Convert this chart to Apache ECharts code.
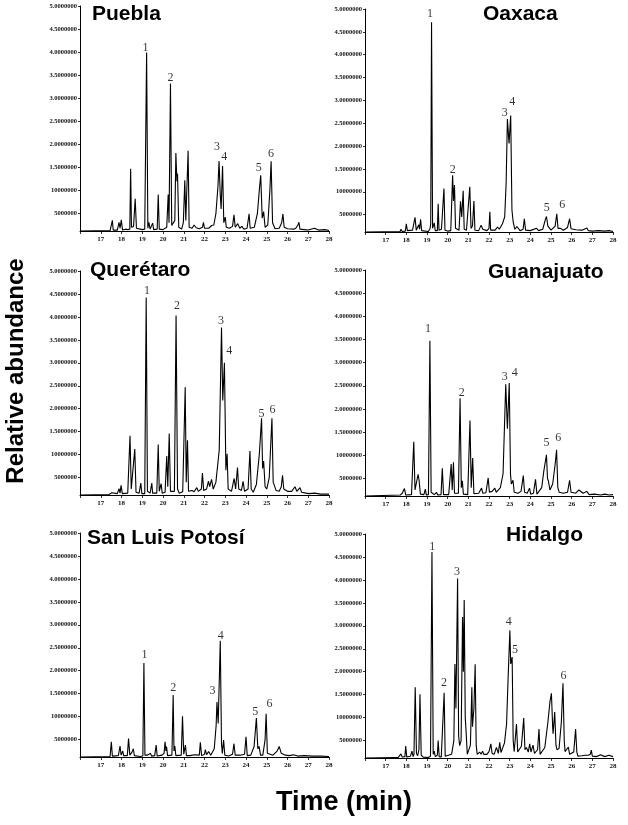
<!DOCTYPE html>
<html>
<head>
<meta charset="utf-8">
<script src="https://cdn.jsdelivr.net/npm/echarts@6/dist/echarts.min.js"></script>
<style>html,body{margin:0;padding:0;background:#fff}#c{width:628px;height:825px}</style>
</head>
<body>
<div id="c"></div>
<script>
// ---- DATA (abundance in millions, time in min) ----
const panelNames = ['Puebla','Oaxaca','Querétaro','Guanajuato','San Luis Potosí','Hidalgo'];
const xTickLabels = ['17','18','19','20','21','22','23','24','25','26','27','28'];
const yTickValues = [5,10,15,20,25,30,35,40,45,50];
const yTickLabels = ['5000000','10000000','1.5000000','2.0000000','2.5000000','3.0000000','3.5000000','4.0000000','4.5000000','5.0000000'];

const puebla = [[16.0,1.2],[17.45,1.3],[17.52,1.5],[17.56,3.5],[17.6,1.4],[17.8,1.4],[17.88,3.1],[17.93,1.8],[17.99,3.6],[18.05,1.4],[18.2,1.6],[18.23,2.0],[18.3,1.5],[18.4,1.6],[18.44,14.7],[18.48,2.0],[18.58,2.2],[18.66,8.2],[18.72,1.8],[19.0,1.5],[19.12,1.6],[19.21,39.9],[19.27,1.8],[19.32,3.1],[19.38,1.6],[19.5,2.9],[19.55,1.5],[19.72,1.6],[19.77,9.1],[19.82,1.6],[20.0,1.5],[20.18,2.0],[20.25,9.1],[20.29,3.0],[20.36,33.2],[20.42,2.4],[20.5,2.2],[20.57,3.5],[20.62,18.1],[20.67,12.0],[20.7,13.6],[20.76,2.0],[20.9,1.6],[20.98,3.0],[21.05,12.2],[21.1,3.5],[21.21,18.6],[21.26,2.0],[21.4,1.8],[21.5,2.5],[21.6,1.9],[21.75,1.7],[21.9,2.0],[21.95,3.1],[22.0,1.8],[22.2,1.8],[22.35,2.4],[22.45,2.5],[22.55,5.0],[22.65,11.0],[22.7,16.4],[22.76,9.0],[22.8,6.0],[22.87,15.3],[22.93,3.0],[23.0,4.2],[23.05,2.0],[23.2,1.8],[23.35,2.2],[23.42,4.7],[23.48,2.0],[23.6,2.8],[23.7,1.8],[23.8,2.2],[23.9,1.6],[24.05,1.8],[24.15,4.9],[24.2,1.8],[24.4,2.0],[24.55,5.0],[24.65,10.5],[24.71,13.3],[24.78,4.0],[24.85,5.4],[24.92,2.0],[25.05,2.5],[25.15,10.0],[25.21,16.3],[25.28,3.0],[25.4,1.7],[25.6,1.8],[25.72,3.0],[25.78,4.9],[25.84,2.0],[26.0,1.7],[26.3,1.6],[26.4,1.8],[26.5,2.5],[26.55,3.1],[26.6,1.6],[26.8,1.5],[27.0,1.4],[27.3,1.8],[27.5,1.4],[27.8,1.5],[28.0,1.3]];

const oaxaca = [[16.0,1.2],[17.7,1.3],[17.74,1.8],[17.8,1.3],[17.95,1.4],[18.0,3.0],[18.05,1.5],[18.3,1.6],[18.42,4.4],[18.48,1.6],[18.6,2.8],[18.64,1.8],[18.69,4.0],[18.74,1.5],[19.05,1.3],[19.14,1.8],[19.18,3.0],[19.22,47.1],[19.27,2.0],[19.35,3.2],[19.4,1.5],[19.46,1.9],[19.5,1.5],[19.54,7.4],[19.58,1.6],[19.7,1.8],[19.76,1.6],[19.82,10.7],[19.87,1.6],[19.95,1.9],[20.0,1.4],[20.15,1.5],[20.24,13.6],[20.28,8.0],[20.33,11.5],[20.38,2.0],[20.46,1.8],[20.55,1.6],[20.62,7.9],[20.68,4.5],[20.75,10.2],[20.8,1.8],[20.91,1.6],[21.0,1.7],[21.07,11.1],[21.13,2.0],[21.2,2.5],[21.27,8.0],[21.32,1.6],[21.5,1.5],[21.62,2.7],[21.7,1.8],[21.9,1.5],[22.0,2.0],[22.04,5.6],[22.08,1.6],[22.3,1.6],[22.41,2.3],[22.5,1.8],[22.65,3.0],[22.76,4.5],[22.83,12.0],[22.89,25.9],[22.97,20.6],[23.05,26.7],[23.11,6.0],[23.17,3.4],[23.25,1.8],[23.35,2.4],[23.41,2.0],[23.5,1.5],[23.65,1.8],[23.71,4.1],[23.77,1.6],[24.0,1.5],[24.3,2.0],[24.4,1.5],[24.6,1.8],[24.72,3.8],[24.78,4.6],[24.85,2.5],[25.0,1.6],[25.2,2.5],[25.28,5.2],[25.34,2.0],[25.45,2.0],[25.6,1.6],[25.8,2.2],[25.9,4.1],[25.97,1.9],[26.2,1.7],[26.5,1.6],[26.74,2.1],[26.8,1.5],[27.0,1.4],[27.3,1.5],[27.6,1.4],[27.8,1.5],[28.0,1.3]];

const queretaro = [[16.0,1.2],[17.4,1.3],[17.53,1.7],[17.6,1.3],[17.8,1.5],[17.88,2.6],[17.93,1.6],[17.98,3.3],[18.04,1.5],[18.3,1.6],[18.41,14.1],[18.47,2.5],[18.55,2.4],[18.64,11.2],[18.7,1.8],[18.85,1.6],[18.93,3.8],[18.98,1.5],[19.12,1.5],[19.19,44.2],[19.25,2.0],[19.3,1.8],[19.38,1.6],[19.46,3.8],[19.5,1.6],[19.7,1.6],[19.77,12.2],[19.82,2.0],[19.91,3.7],[19.96,1.6],[20.1,1.8],[20.18,9.7],[20.23,3.0],[20.3,14.6],[20.36,2.0],[20.42,1.8],[20.55,2.0],[20.63,40.3],[20.7,2.5],[20.78,1.6],[20.95,1.9],[21.07,24.7],[21.12,4.0],[21.18,13.1],[21.23,2.0],[21.4,2.2],[21.5,1.9],[21.63,2.8],[21.7,2.0],[21.85,2.5],[21.9,6.0],[21.96,2.2],[22.1,2.5],[22.19,4.2],[22.25,3.0],[22.34,4.6],[22.42,2.5],[22.55,4.0],[22.71,11.0],[22.82,37.7],[22.88,21.8],[22.96,30.0],[23.03,6.6],[23.09,10.2],[23.14,2.5],[23.3,2.0],[23.43,4.8],[23.5,2.5],[23.59,7.2],[23.65,2.5],[23.78,2.2],[23.86,4.2],[23.93,2.0],[24.1,2.5],[24.19,10.8],[24.25,2.5],[24.35,1.8],[24.5,3.5],[24.64,10.0],[24.75,17.9],[24.8,7.0],[24.85,8.6],[24.92,3.0],[25.0,2.5],[25.12,5.0],[25.25,17.9],[25.31,4.0],[25.36,4.1],[25.45,2.2],[25.6,2.0],[25.7,3.0],[25.76,5.5],[25.82,2.5],[26.0,2.0],[26.2,2.0],[26.36,3.0],[26.45,2.0],[26.6,2.8],[26.68,1.8],[26.9,1.6],[27.05,1.5],[27.3,1.6],[27.6,1.4],[28.0,1.4]];

const guanajuato = [[16.0,1.2],[17.7,1.4],[17.8,1.8],[17.86,1.5],[17.91,2.8],[17.97,1.4],[18.25,1.5],[18.36,12.9],[18.42,2.5],[18.5,2.2],[18.57,5.9],[18.62,4.5],[18.68,1.6],[18.85,1.5],[18.92,2.7],[18.97,1.4],[19.07,1.5],[19.14,34.7],[19.2,2.0],[19.29,2.3],[19.35,1.5],[19.46,2.0],[19.52,1.4],[19.68,1.5],[19.74,7.2],[19.8,1.5],[19.88,1.6],[20.05,1.5],[20.17,8.1],[20.22,2.5],[20.28,8.5],[20.33,1.8],[20.39,1.6],[20.52,1.8],[20.6,22.3],[20.66,3.0],[20.71,4.5],[20.76,1.6],[20.97,1.5],[21.08,17.5],[21.14,3.0],[21.21,9.4],[21.27,1.7],[21.32,1.8],[21.5,1.8],[21.64,2.9],[21.7,1.8],[21.85,1.9],[21.96,5.1],[22.02,2.0],[22.15,2.2],[22.28,2.9],[22.35,2.0],[22.55,3.0],[22.68,6.0],[22.81,25.3],[22.89,15.7],[22.98,25.6],[23.04,6.0],[23.08,3.8],[23.16,4.6],[23.22,2.0],[23.4,1.8],[23.55,2.2],[23.66,5.6],[23.72,2.0],[23.85,1.8],[23.96,2.9],[24.02,1.6],[24.15,1.8],[24.25,4.8],[24.32,1.6],[24.41,1.6],[24.55,3.0],[24.65,6.5],[24.78,10.1],[24.83,5.0],[24.87,4.5],[24.95,2.5],[25.08,3.8],[25.2,8.0],[25.27,11.2],[25.33,3.0],[25.4,2.0],[25.6,1.8],[25.8,2.0],[25.9,4.6],[25.97,2.0],[26.2,1.8],[26.35,2.5],[26.44,2.9],[26.55,1.8],[26.73,2.2],[26.85,1.5],[27.1,1.6],[27.4,1.4],[27.6,1.6],[27.8,1.4],[28.0,1.5]];

const sanLuis = [[16.0,1.2],[17.45,1.3],[17.51,4.5],[17.56,1.4],[17.85,1.5],[17.93,3.6],[17.98,1.6],[18.06,2.5],[18.1,1.5],[18.28,1.5],[18.34,5.2],[18.4,1.6],[18.5,2.2],[18.57,3.0],[18.62,1.5],[18.9,1.3],[19.03,1.4],[19.08,21.7],[19.13,1.6],[19.25,1.6],[19.4,2.0],[19.45,1.4],[19.6,1.5],[19.67,3.8],[19.72,1.4],[19.95,1.6],[20.05,2.0],[20.1,4.5],[20.14,2.5],[20.17,3.5],[20.22,1.5],[20.43,1.6],[20.49,14.7],[20.53,2.5],[20.57,3.6],[20.62,1.5],[20.88,1.6],[20.94,10.1],[21.0,1.8],[21.08,3.8],[21.13,1.5],[21.3,1.5],[21.51,1.7],[21.6,1.4],[21.75,1.6],[21.8,4.4],[21.86,1.5],[22.0,1.8],[22.04,2.8],[22.1,1.7],[22.2,2.4],[22.3,1.6],[22.47,3.0],[22.56,8.0],[22.6,13.2],[22.66,8.5],[22.76,26.5],[22.82,4.0],[22.86,2.0],[22.92,4.9],[22.98,1.6],[23.16,1.4],[23.35,1.8],[23.42,4.1],[23.48,1.6],[23.72,1.6],[23.93,1.8],[24.0,5.6],[24.06,1.5],[24.23,1.6],[24.39,3.5],[24.5,9.7],[24.57,3.0],[24.63,3.5],[24.7,1.6],[24.81,1.6],[24.92,5.0],[24.97,10.6],[25.03,2.0],[25.08,1.6],[25.3,1.6],[25.5,2.5],[25.6,3.5],[25.7,2.0],[25.9,1.6],[26.1,1.5],[26.28,1.7],[26.5,1.4],[26.8,1.5],[27.2,1.4],[27.6,1.4],[28.0,1.3]];

const hidalgo = [[16.0,1.2],[17.45,1.3],[17.53,1.6],[17.6,1.3],[17.74,2.1],[17.8,1.4],[17.93,1.5],[17.97,3.8],[18.02,1.4],[18.2,1.6],[18.27,2.7],[18.33,1.5],[18.37,2.0],[18.43,16.6],[18.49,2.2],[18.55,1.7],[18.61,3.0],[18.66,15.1],[18.72,1.8],[18.82,1.4],[19.06,1.3],[19.17,1.6],[19.24,46.1],[19.3,2.0],[19.35,2.7],[19.4,1.5],[19.5,1.8],[19.54,5.0],[19.59,1.5],[19.69,1.4],[19.77,1.6],[19.83,15.4],[19.88,1.6],[19.93,1.4],[20.19,2.0],[20.3,5.0],[20.35,21.7],[20.4,12.0],[20.48,40.3],[20.53,6.0],[20.58,3.9],[20.65,5.0],[20.72,31.9],[20.76,20.0],[20.8,35.6],[20.85,10.0],[20.88,7.9],[20.95,2.0],[21.04,2.0],[21.1,4.0],[21.17,16.6],[21.2,8.0],[21.23,8.0],[21.27,12.0],[21.33,21.6],[21.38,4.0],[21.43,2.0],[21.55,2.5],[21.62,2.0],[21.69,2.7],[21.75,2.0],[21.8,2.4],[21.9,2.0],[22.0,2.6],[22.09,4.3],[22.15,2.2],[22.25,2.0],[22.36,3.5],[22.45,2.2],[22.52,4.6],[22.58,2.4],[22.65,2.6],[22.75,4.5],[22.85,8.6],[22.92,18.0],[23.01,29.0],[23.05,21.7],[23.12,23.2],[23.17,5.0],[23.22,2.6],[23.28,3.0],[23.33,8.6],[23.39,2.5],[23.46,2.6],[23.57,3.8],[23.68,9.9],[23.74,3.0],[23.81,3.5],[23.9,2.5],[23.97,4.3],[24.03,2.5],[24.13,4.0],[24.2,2.2],[24.26,2.2],[24.35,3.0],[24.42,7.5],[24.47,2.0],[24.55,2.0],[24.7,3.5],[24.85,9.0],[24.95,13.5],[25.02,15.3],[25.08,8.0],[25.1,6.5],[25.18,11.2],[25.24,4.0],[25.29,3.0],[25.39,3.3],[25.5,9.0],[25.58,17.5],[25.64,5.0],[25.68,2.6],[25.77,2.5],[25.84,3.6],[25.9,2.0],[25.99,1.6],[26.1,2.5],[26.19,7.5],[26.25,2.5],[26.3,1.6],[26.5,1.7],[26.65,1.8],[26.71,2.2],[26.8,1.8],[26.9,2.0],[26.95,2.9],[27.0,1.6],[27.2,1.5],[27.4,1.9],[27.6,1.5],[27.8,1.8],[28.0,1.5]];

// peak number label positions [time, abundance, label]
const pueblaPeaks = [[19.16,40.9,'1'],[20.36,34.4,'2'],[22.6,19.4,'3'],[22.95,17.2,'4'],[24.62,14.9,'5'],[25.21,18.0,'6']];
const oaxacaPeaks = [[19.14,49.0,'1'],[20.24,14.9,'2'],[22.76,27.3,'3'],[23.13,29.7,'4'],[24.79,6.5,'5'],[25.55,7.1,'6']];
const queretaroPeaks = [[19.23,45.6,'1'],[20.67,42.4,'2'],[22.79,39.1,'3'],[23.19,32.5,'4'],[24.75,18.9,'5'],[25.28,19.7,'6']];
const guanajuatoPeaks = [[19.05,37.3,'1'],[20.68,23.4,'2'],[22.76,26.9,'3'],[23.24,27.7,'4'],[24.78,12.6,'5'],[25.35,13.7,'6']];
const sanLuisPeaks = [[19.11,23.4,'1'],[20.49,16.3,'2'],[22.39,15.6,'3'],[22.78,27.6,'4'],[24.44,11.0,'5'],[25.13,12.8,'6']];
const hidalgoPeaks = [[19.25,47.2,'1'],[19.82,17.5,'2'],[20.45,41.7,'3'],[22.96,30.8,'4'],[23.26,24.7,'5'],[25.6,19.0,'6']];

const traces = [puebla, oaxaca, queretaro, guanajuato, sanLuis, hidalgo];
const peaks = [pueblaPeaks, oaxacaPeaks, queretaroPeaks, guanajuatoPeaks, sanLuisPeaks, hidalgoPeaks];

// ---- LAYOUT ----
const grids = [
  {left:80, top:6, width:249, height:225},
  {left:365, top:9, width:248, height:223},
  {left:80, top:271, width:249, height:224},
  {left:365, top:270, width:248, height:226},
  {left:80, top:533, width:249, height:224},
  {left:365, top:534, width:248, height:224}
];
const titlePos = [[92,4],[483,4],[90,260],[488,262],[87,528],[506,525]];

const chart = echarts.init(document.getElementById('c'), null, {renderer:'canvas'});
const xAxes = [], yAxes = [], series = [];
for (let i = 0; i < 6; i++) {
  xAxes.push({
    gridIndex:i, type:'value', min:16, max:28, interval:1,
    axisLine:{show:true, onZero:false, lineStyle:{color:'#000', width:1}},
    axisTick:{show:true, length:3, lineStyle:{color:'#000', width:0.8}},
    axisLabel:{show:true, margin:5, fontSize:7, fontWeight:'bold', fontFamily:'Liberation Serif', color:'#111',
      formatter: v => { const k = xTickLabels.indexOf(String(v)); return k >= 0 ? xTickLabels[k] : ''; }},
    splitLine:{show:false}
  });
  yAxes.push({
    gridIndex:i, type:'value', min:1.2, max:50,
    axisLine:{show:true, lineStyle:{color:'#000', width:1}},
    axisTick:{show:true, length:2, customValues:yTickValues, lineStyle:{color:'#000', width:0.8}},
    axisLabel:{show:true, customValues:yTickValues, margin:3, fontSize:6.5, fontWeight:'bold', fontFamily:'Liberation Serif', color:'#111',
      formatter: v => { const k = yTickValues.indexOf(v); return k >= 0 ? yTickLabels[k] : ''; }},
    splitLine:{show:false}
  });
  series.push({
    type:'line', xAxisIndex:i, yAxisIndex:i, data:traces[i], showSymbol:false, symbol:'none',
    lineStyle:{color:'#000', width:1.1}, silent:true, animation:false
  });
  series.push({
    type:'scatter', xAxisIndex:i, yAxisIndex:i, symbolSize:0, silent:true, animation:false,
    data: peaks[i].map(p => ({value:[p[0], p[1]], name:p[2]})),
    label:{show:true, position:'inside', formatter: p => p.name, fontSize:12, fontFamily:'Liberation Serif', color:'#000'}
  });
}

const graphic = panelNames.map((n, i) => ({
  type:'text', left:titlePos[i][0], top:titlePos[i][1],
  style:{text:n, font:'bold 21px "Liberation Sans", Arial, sans-serif', fill:'#000'}
}));
graphic.push({type:'text', x:16, y:371, rotation:Math.PI/2,
  style:{text:'Relative abundance', font:'bold 24px "Liberation Sans", Arial, sans-serif', fill:'#000', align:'center', verticalAlign:'middle'}});
graphic.push({type:'text', x:344, y:803,
  style:{text:'Time (min)', font:'bold 27px "Liberation Sans", Arial, sans-serif', fill:'#000', align:'center', verticalAlign:'middle'}});

chart.setOption({
  animation:false,
  backgroundColor:'#fff',
  grid:grids,
  xAxis:xAxes,
  yAxis:yAxes,
  series:series,
  graphic:graphic
});
</script>
</body>
</html>
